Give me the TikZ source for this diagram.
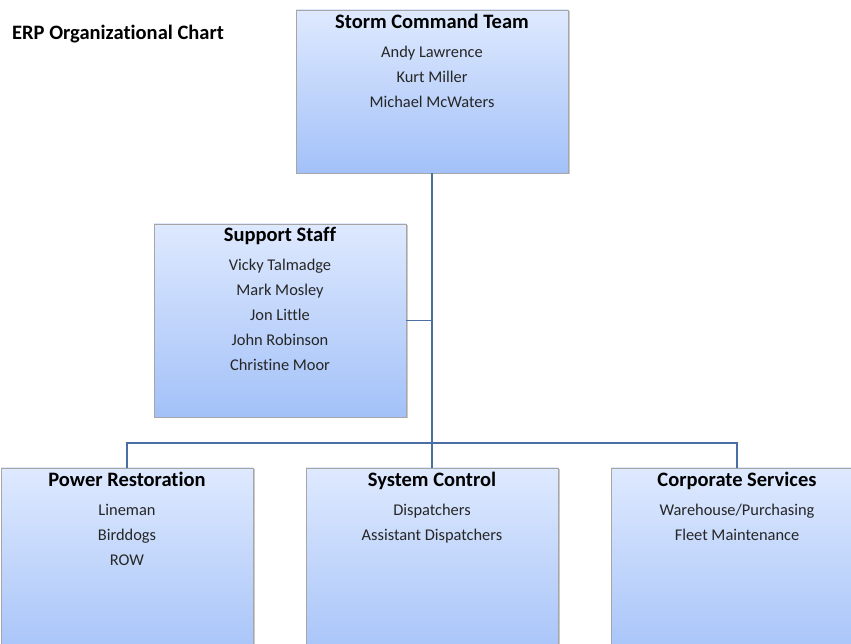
\documentclass[tikz,border=0pt]{standalone}
\usepackage{fontspec}
\setmainfont{Carlito}[RawFeature={-liga;-clig}]
\usetikzlibrary{shadows}
\definecolor{boxtop}{HTML}{DEE9FE}
\definecolor{boxbot}{HTML}{A3C1F8}
\definecolor{boxedge}{HTML}{A6A6A6}
\definecolor{linkblue}{HTML}{4A6FA5}
\definecolor{txt}{HTML}{262626}
\newcommand{\boxhead}[1]{{\fontsize{20.5}{22}\bfseries\selectfont\color{black}#1}}
\tikzset{
  orgbox/.style={draw=boxedge, line width=0.8pt, top color=boxtop, bottom color=boxbot,
    minimum width=#1, inner sep=0pt, anchor=north,
    drop shadow={shadow xshift=1.5pt, shadow yshift=-1.5pt, opacity=0.35, fill=black!60}},
  boxtext/.style={anchor=north, align=center, inner sep=0pt, text=txt, yshift=-4pt,
    font=\fontsize{16.4}{25}\selectfont},
  link/.style={draw=linkblue, line width=1.8pt}
}
\begin{document}
\begin{tikzpicture}[x=1pt, y=-1pt]
\useasboundingbox (0,0) rectangle (851,643);
\clip (0,0) rectangle (851,643);

\node[anchor=west, font=\fontsize{20.5}{22}\bfseries\selectfont, inner sep=0pt] (title) at (12,34) {ERP Organizational Chart};

% boxes
\node[orgbox=272pt, minimum height=163pt] (storm) at (432,9.5) {};
\node[orgbox=252pt, minimum height=193pt] (support) at (280,223.5) {};
\node[orgbox=252pt, minimum height=200pt] (power) at (127,467.5) {};
\node[orgbox=252pt, minimum height=200pt] (sysctl) at (432,467.5) {};
\node[orgbox=252pt, minimum height=200pt] (corp) at (737,467.5) {};

% connectors
\coordinate (busL) at (power.north |- 0,443);
\coordinate (busR) at (corp.north |- 0,443);
\coordinate (busM) at (storm.south |- 0,443);
\coordinate (tapS) at (storm.south |- support.east);
\draw[link] (storm.south) -- (busM);
\draw[link] (support.east) -- (tapS);
\draw[link] (power.north) -- (busL) -- (busR) -- (corp.north);
\draw[link] (busM) -- (sysctl.north);

% box contents
\node[boxtext] (stormtxt) at (storm.north) {\boxhead{Storm Command Team}\\[4pt]Andy Lawrence\\Kurt Miller\\Michael McWaters};
\node[boxtext] (supporttxt) at (support.north) {\boxhead{Support Staff}\\[4pt]Vicky Talmadge\\Mark Mosley\\Jon Little\\John Robinson\\Christine Moor};
\node[boxtext] (powertxt) at (power.north) {\boxhead{Power Restoration}\\[4pt]Lineman\\Birddogs\\ROW};
\node[boxtext] (sysctltxt) at (sysctl.north) {\boxhead{System Control}\\[4pt]Dispatchers\\Assistant Dispatchers};
\node[boxtext] (corptxt) at (corp.north) {\boxhead{Corporate Services}\\[4pt]Warehouse/Purchasing\\Fleet Maintenance};
\end{tikzpicture}
\end{document}
